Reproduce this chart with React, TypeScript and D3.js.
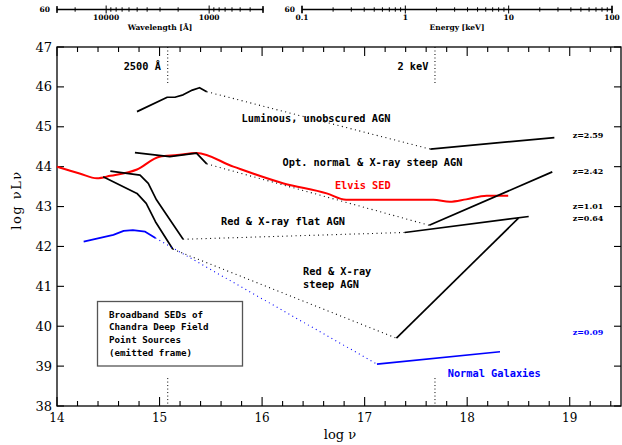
import { useEffect, useRef } from "react";
import * as d3 from "d3";

type Pt = [number, number];

// axis ranges (log nu, log nuLnu)
const X_DOMAIN: [number, number] = [14, 19.5];
const Y_DOMAIN: [number, number] = [38, 47];
const X_LABELS = [14, 15, 16, 17, 18, 19];
const Y_LABELS = [38, 39, 40, 41, 42, 43, 44, 45, 46, 47];

// top axes
const WAVE_DOMAIN: [number, number] = [30000, 300];
const WAVE_LABELS = [10000, 1000];
const ENERGY_DOMAIN: [number, number] = [0.1, 100];
const ENERGY_LABELS = [0.1, 1, 10, 100];

// reference frequencies: 2500 A and 2 keV
const NU_2500A = 15.08;
const NU_2KEV = 17.686;

// SED pieces: optical part, then X-ray part (joined by a dotted bridge)
const luminousOpt: Pt[] = [[14.78, 45.38], [15.075, 45.74], [15.15, 45.74], [15.23, 45.8], [15.32, 45.92], [15.39, 45.98], [15.46, 45.88]];
const luminousX: Pt[] = [[17.64, 44.44], [18.85, 44.73]];

const optNormalOpt: Pt[] = [[14.76, 44.35], [15.1, 44.25], [15.36, 44.34], [15.46, 44.07]];
const optNormalX: Pt[] = [[17.63, 42.53], [18.83, 43.87]];

const redFlatOpt: Pt[] = [[14.52, 43.89], [14.81, 43.79], [14.89, 43.58], [14.97, 43.17], [15.07, 42.79], [15.23, 42.18]];
const redFlatX: Pt[] = [[17.39, 42.35], [18.6, 42.75]];

const redSteepOpt: Pt[] = [[14.45, 43.75], [14.78, 43.33], [14.87, 43.08], [14.96, 42.62], [15.13, 41.93]];
const redSteepX: Pt[] = [[17.31, 39.7], [18.5, 42.71]];

const galaxyOpt: Pt[] = [[14.26, 42.12], [14.55, 42.29], [14.65, 42.39], [14.74, 42.41], [14.86, 42.37], [14.96, 42.21]];
const galaxyX: Pt[] = [[17.12, 39.05], [18.32, 39.36]];

const elvisSed: Pt[] = [
  [14.0, 44.0], [14.22, 43.83], [14.39, 43.71], [14.52, 43.77], [14.78, 43.93], [15.0, 44.25],
  [15.17, 44.29], [15.36, 44.34], [15.72, 44.0], [16.21, 43.58], [16.63, 43.33], [16.82, 43.17],
  [17.34, 43.17], [17.67, 43.17], [17.83, 43.12], [17.99, 43.18], [18.19, 43.27], [18.4, 43.27],
];

const redshiftLabels = [
  { text: "z=2.59", y: 44.76, color: "#000" },
  { text: "z=2.42", y: 43.87, color: "#000" },
  { text: "z=1.01", y: 42.99, color: "#000" },
  { text: "z=0.64", y: 42.7, color: "#000" },
  { text: "z=0.09", y: 39.83, color: "#0000ff" },
];

const notes = [
  { text: "2500 Å", x: 14.65, y: 46.5, color: "#000" },
  { text: "2 keV", x: 17.32, y: 46.5, color: "#000" },
  { text: "Luminous, unobscured AGN", x: 15.8, y: 45.2, color: "#000" },
  { text: "Opt. normal & X-ray steep AGN", x: 16.2, y: 44.1, color: "#000" },
  { text: "Elvis SED", x: 16.71, y: 43.52, color: "#ff0000" },
  { text: "Red & X-ray flat AGN", x: 15.6, y: 42.62, color: "#000" },
  { text: "Red & X-ray", x: 16.4, y: 41.36, color: "#000" },
  { text: "steep AGN", x: 16.4, y: 41.04, color: "#000" },
  { text: "Normal Galaxies", x: 17.81, y: 38.8, color: "#0000ff" },
];

const boxLines = ["Broadband SEDs of", "Chandra Deep Field", "Point Sources", "(emitted frame)"];

const W = 622;
const H = 445;
const LEFT = 57;
const RIGHT = 621;
const TOP = 47;
const BOTTOM = 406;

const MONO = "'DejaVu Sans Mono', monospace";
const SERIF = "'DejaVu Serif', serif";

export default function App() {
  const ref = useRef<SVGSVGElement | null>(null);

  useEffect(() => {
    if (!ref.current) return;
    const svg = d3.select(ref.current);
    svg.selectAll("*").remove();

    const x = d3.scaleLinear().domain(X_DOMAIN).range([LEFT, RIGHT]);
    const y = d3.scaleLinear().domain(Y_DOMAIN).range([BOTTOM, TOP]);

    // frame
    svg.append("rect")
      .attr("x", LEFT).attr("y", TOP)
      .attr("width", RIGHT - LEFT).attr("height", BOTTOM - TOP)
      .attr("fill", "none").attr("stroke", "#000").attr("stroke-width", 1.3);

    // x ticks (major every 1, minor every 0.2), top and bottom
    const xTicks = d3.range(0, 28).map((i) => 14 + i * 0.2);
    const tk = svg.append("g").attr("stroke", "#000").attr("stroke-width", 1.1);
    xTicks.forEach((v) => {
      const major = Math.abs(v - Math.round(v)) < 1e-6;
      const len = major ? 9 : 5;
      tk.append("line").attr("x1", x(v)).attr("x2", x(v)).attr("y1", BOTTOM).attr("y2", BOTTOM - len);
      tk.append("line").attr("x1", x(v)).attr("x2", x(v)).attr("y1", TOP).attr("y2", TOP + len);
    });
    Y_LABELS.forEach((v) => {
      tk.append("line").attr("x1", LEFT).attr("x2", LEFT + 7).attr("y1", y(v)).attr("y2", y(v));
      tk.append("line").attr("x1", RIGHT).attr("x2", RIGHT - 7).attr("y1", y(v)).attr("y2", y(v));
    });

    svg.append("g").selectAll("text").data(X_LABELS).join("text")
      .attr("x", (d) => x(d)).attr("y", 422)
      .attr("text-anchor", "middle")
      .attr("font-family", SERIF).attr("font-size", 12)
      .text((d) => d);

    svg.append("g").selectAll("text").data(Y_LABELS).join("text")
      .attr("x", 52).attr("y", (d) => y(d) + 4.5)
      .attr("text-anchor", "end")
      .attr("font-family", SERIF).attr("font-size", 13)
      .text((d) => d);

    svg.append("text")
      .attr("x", 340).attr("y", 439)
      .attr("text-anchor", "middle")
      .attr("font-family", SERIF).attr("font-size", 13)
      .text("log  ν");

    svg.append("text")
      .attr("transform", "translate(21,200) rotate(-90)")
      .attr("text-anchor", "middle")
      .attr("font-family", SERIF).attr("font-size", 13).attr("letter-spacing", 1.5)
      .text("log  νLν");

    // secondary top axes
    const drawLogAxis = (
      scale: d3.ScaleLogarithmic<number, number>,
      labels: number[],
      title: string,
      fmt: (d: number) => string,
    ) => {
      const g = svg.append("g");
      const ay = 9.5;
      const [r0, r1] = scale.range();
      g.append("line").attr("x1", r0).attr("x2", r1).attr("y1", ay).attr("y2", ay)
        .attr("stroke", "#000").attr("stroke-width", 1.4);
      [r0, r1].forEach((p) => {
        g.append("line").attr("x1", p).attr("x2", p).attr("y1", ay - 3.5).attr("y2", ay + 3.5)
          .attr("stroke", "#000").attr("stroke-width", 1.4);
      });
      scale.ticks().forEach((t) => {
        const major = labels.some((l) => Math.abs(l - t) / l < 1e-6);
        const h = major ? 4 : 2.2;
        g.append("line").attr("x1", scale(t)).attr("x2", scale(t))
          .attr("y1", ay - h).attr("y2", ay + h)
          .attr("stroke", "#000").attr("stroke-width", 1);
      });
      g.selectAll("text.tl").data(labels).join("text").attr("class", "tl")
        .attr("x", (d) => scale(d)).attr("y", 20)
        .attr("text-anchor", "middle")
        .attr("font-family", SERIF).attr("font-size", 7.5).attr("font-weight", "bold")
        .text(fmt);
      g.append("text")
        .attr("x", (r0 + r1) / 2).attr("y", 30)
        .attr("text-anchor", "middle")
        .attr("font-family", SERIF).attr("font-size", 7.5).attr("font-weight", "bold")
        .text(title);
      g.append("text")
        .attr("x", r0 - 7).attr("y", ay + 2.8)
        .attr("text-anchor", "end")
        .attr("font-family", SERIF).attr("font-size", 7.5).attr("font-weight", "bold")
        .text("60");
    };

    drawLogAxis(d3.scaleLog().domain(WAVE_DOMAIN).range([57, 263]), WAVE_LABELS, "Wavelength  [Å]", (d) => String(d));
    drawLogAxis(d3.scaleLog().domain(ENERGY_DOMAIN).range([302, 612]), ENERGY_LABELS, "Energy  [keV]", (d) => String(d));

    // reference dotted verticals
    [NU_2500A, NU_2KEV].forEach((v) => {
      svg.append("line").attr("x1", x(v)).attr("x2", x(v)).attr("y1", TOP).attr("y2", y(46.04))
        .attr("stroke", "#000").attr("stroke-width", 1).attr("stroke-dasharray", "1,2.5");
      svg.append("line").attr("x1", x(v)).attr("x2", x(v)).attr("y1", y(38.7)).attr("y2", BOTTOM)
        .attr("stroke", "#000").attr("stroke-width", 1).attr("stroke-dasharray", "1,2.5");
    });

    const line = d3.line<Pt>().x((d) => x(d[0])).y((d) => y(d[1]));
    const smooth = d3.line<Pt>().x((d) => x(d[0])).y((d) => y(d[1])).curve(d3.curveMonotoneX);

    // Elvis SED
    svg.append("path").attr("d", smooth(elvisSed))
      .attr("fill", "none").attr("stroke", "#ff0000").attr("stroke-width", 2);

    const seds = [
      { opt: luminousOpt, xr: luminousX, color: "#000" },
      { opt: optNormalOpt, xr: optNormalX, color: "#000" },
      { opt: redFlatOpt, xr: redFlatX, color: "#000" },
      { opt: redSteepOpt, xr: redSteepX, color: "#000" },
      { opt: galaxyOpt, xr: galaxyX, color: "#0000ff" },
    ];
    seds.forEach((s) => {
      svg.append("path").attr("d", line(s.opt))
        .attr("fill", "none").attr("stroke", s.color).attr("stroke-width", 1.7).attr("stroke-linejoin", "round");
      svg.append("path").attr("d", line([s.opt[s.opt.length - 1], s.xr[0]]))
        .attr("fill", "none").attr("stroke", s.color).attr("stroke-width", 1.1).attr("stroke-dasharray", "1,3.5");
      svg.append("path").attr("d", line(s.xr))
        .attr("fill", "none").attr("stroke", s.color).attr("stroke-width", 1.7);
    });

    // annotations
    svg.append("g").selectAll("text").data(notes).join("text")
      .attr("x", (d) => x(d.x)).attr("y", (d) => y(d.y))
      .attr("font-family", MONO).attr("font-size", 10.3).attr("font-weight", "bold")
      .attr("fill", (d) => d.color)
      .attr("dominant-baseline", "middle")
      .text((d) => d.text);

    svg.append("g").selectAll("text").data(redshiftLabels).join("text")
      .attr("x", 588).attr("y", (d) => y(d.y))
      .attr("text-anchor", "middle").attr("dominant-baseline", "middle")
      .attr("font-family", SERIF).attr("font-size", 8).attr("font-weight", "bold")
      .attr("fill", (d) => d.color)
      .text((d) => d.text);

    // legend box
    svg.append("rect")
      .attr("x", 97.5).attr("y", 301.5).attr("width", 145).attr("height", 64.5)
      .attr("fill", "#fff").attr("stroke", "#555").attr("stroke-width", 1.3);
    svg.append("g").selectAll("text").data(boxLines).join("text")
      .attr("x", 109).attr("y", (_d, i) => [315, 327, 340, 353.5][i])
      .attr("dominant-baseline", "middle")
      .attr("font-family", MONO).attr("font-size", 9.2).attr("font-weight", "bold")
      .text((d) => d);
  }, []);

  return (
    <svg
      ref={ref}
      width={W}
      height={H}
      style={{ position: "absolute", left: 0, top: 0, background: "#fff", display: "block" }}
    />
  );
}
